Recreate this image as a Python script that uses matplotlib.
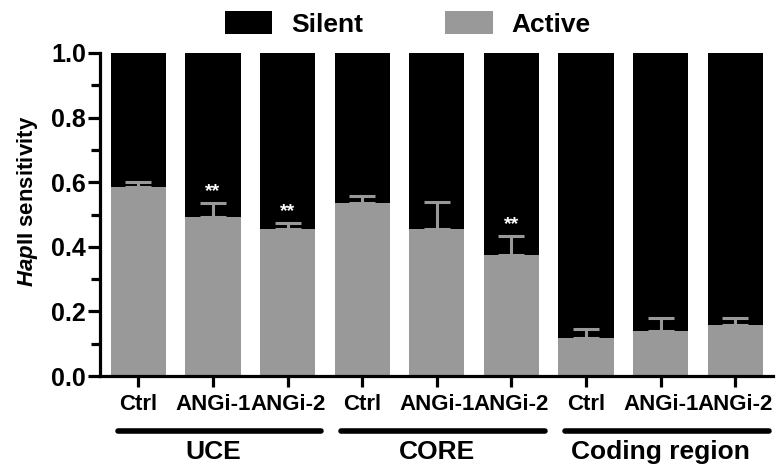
import matplotlib
matplotlib.use('Agg')
import numpy as np
import matplotlib.pyplot as plt
import matplotlib.patches as patches
from matplotlib.ticker import MultipleLocator

plt.rcParams['font.family'] = ['Liberation Sans', 'DejaVu Sans']
plt.rcParams['mathtext.fontset'] = 'custom'
plt.rcParams['mathtext.it'] = 'Liberation Sans:italic:bold'
plt.rcParams['mathtext.rm'] = 'Liberation Sans:bold'

# data
conditions = ['Ctrl', 'ANGi-1', 'ANGi-2', 'Ctrl', 'ANGi-1', 'ANGi-2', 'Ctrl', 'ANGi-1', 'ANGi-2']
groups = ['UCE', 'CORE', 'Coding region']
active = [0.585, 0.492, 0.455, 0.535, 0.455, 0.375, 0.117, 0.139, 0.157]
active_err = [0.016, 0.043, 0.019, 0.022, 0.084, 0.058, 0.028, 0.040, 0.022]
stars = ['', '**', '**', '', '', '**', '', '', '']
silent = [1 - a for a in active]

GRAY = '#999999'

fig = plt.figure(figsize=(7.78, 4.73), dpi=100)
ax = fig.add_axes([0.1285, 0.205, 0.865, 0.683])

x = np.arange(len(active))
w = 0.74
ax.bar(x, active, width=w, color=GRAY, zorder=2)
ax.bar(x, silent, width=w, bottom=active, color='black', zorder=2)
ax.errorbar(x, active, yerr=[np.zeros(len(active)), active_err], fmt='none',
            ecolor=GRAY, elinewidth=2.2, capsize=9.5, capthick=2.2, zorder=3)

for xi, a, e, s in zip(x, active, active_err, stars):
    if s:
        ax.text(xi, a + e + 0.01, s, color='white', ha='center', va='bottom',
                fontsize=14, fontweight='bold', zorder=4)

ax.set_xlim(-0.516, 8.505)
ax.set_ylim(0, 1.0)

for side in ['top', 'right']:
    ax.spines[side].set_visible(False)
for side in ['left', 'bottom']:
    ax.spines[side].set_linewidth(2.3)

ax.yaxis.set_major_locator(MultipleLocator(0.2))
ax.yaxis.set_minor_locator(MultipleLocator(0.1))
ax.set_yticks(np.arange(0, 1.01, 0.2))
ax.set_yticklabels(['%.1f' % v for v in np.arange(0, 1.01, 0.2)],
                   fontsize=18, fontweight='bold')
ax.tick_params(axis='y', which='major', length=9, width=2.3, pad=1)
ax.tick_params(axis='y', which='minor', length=6.5, width=2.3)
ax.set_xticks(x)
ax.set_xticklabels(conditions, fontsize=16, fontweight='bold')
ax.tick_params(axis='x', length=8, width=2.3, pad=5)

ax.set_ylabel(r'$\mathit{Hap}$II sensitivity', fontsize=16, fontweight='bold')
ax.yaxis.set_label_coords(-0.089, 0.54)

# group lines and labels under the tick labels
for gi, name in enumerate(groups):
    x0 = gi * 3 - 0.28
    x1 = gi * 3 + 2.45
    ax.plot([x0, x1], [-0.170, -0.170], color='black', lw=4, solid_capstyle='round',
            transform=ax.get_xaxis_transform(), clip_on=False)
    ax.text(gi * 3 + 1, -0.235, name, ha='center', va='center', fontsize=19,
            fontweight='bold', transform=ax.get_xaxis_transform())

handles = [patches.Patch(facecolor='black', label='Silent'),
           patches.Patch(facecolor=GRAY, label='Active')]
fig.legend(handles=handles, loc='center', bbox_to_anchor=(0.524, 0.95), ncol=2,
           frameon=False, prop={'size': 19, 'weight': 'bold'}, handlelength=1.8,
           handleheight=1.0, handletextpad=0.72, columnspacing=3.1, borderpad=0)

fig.savefig('out.png', dpi=100)
